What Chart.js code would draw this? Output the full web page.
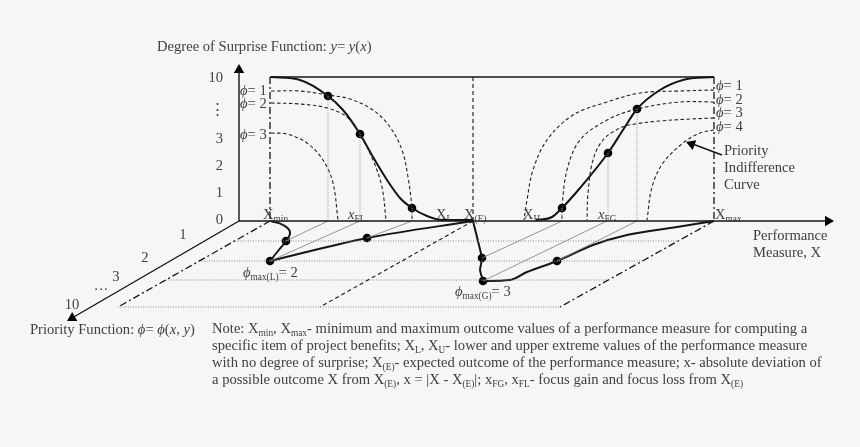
<!DOCTYPE html>
<html>
<head>
<meta charset="utf-8">
<script src="https://cdn.jsdelivr.net/npm/chart.js@4.4.1/dist/chart.umd.min.js"></script>
<style>
body { margin:0; background:#f6f6f6; }
#c { display:block; }
</style>
</head>
<body>
<canvas id="c" width="860" height="447"></canvas>
<script>
// diagram values, in picture units (x to the right, y downward)
var surpriseTicks = ['10', '⋮', '3', '2', '1', '0'];
var surpriseTickY = [77, 109, 138, 165, 192, 219];
var priorityTicks = ['1', '2', '3', '…', '10'];
var priorityTickXY = [[183,234], [145,257], [116,276], [101,285], [72,304]];

var topLine = [[270,77], [714,77]];
var lossCurve = [[271,77],[300,80],[328,96],[343,110],[360,134],[373,157],[387,180],[400,198],[412,208],[427,216],[442,220],[473,220]];
var gainCurve = [[536,220],[552,217],[562,208],[580,188],[608,153],[623,130],[637,109],[660,90],[683,80],[714,77]];

var lossPhi1 = [[271,91],[300,91],[328,95],[350,99],[373,110],[390,127],[402,150],[408,177],[412,208],[412,220]];
var lossPhi2 = [[271,103],[300,104],[327,108],[347,117],[360,135],[373,160],[382,187],[386,220]];
var lossPhi3 = [[271,133],[287,134],[307,143],[323,160],[333,183],[338,220]];
var gainPhi1 = [[714,90],[680,91],[640,93],[607,102],[573,115],[547,140],[533,170],[527,200],[524,220]];
var gainPhi2 = [[714,102],[680,102],[637,109],[607,120],[580,140],[567,170],[562,208],[562,220]];
var gainPhi3 = [[714,118],[690,119],[660,121],[635,124],[620,128],[603,140],[593,160],[588,193],[587,220]];
var gainPhi4 = [[714,130],[700,133],[683,143],[663,163],[652,187],[647,220]];

var lossDots = [[328,96], [360,134], [412,208]];
var gainDots = [[562,208], [608,153], [637,109]];
var floorDots = [[286,241], [270,261], [367,238], [482,258], [483,281], [557,261]];

var floorRows = [[[233,241],[677,241]], [[199,261],[642,261]], [[166,280],[608,280]], [[118,307],[560,307]]];
var floorLoss = [[271,221],[283,225],[290,232],[286,241],[278,251],[270,261]];
var floorLossLine = [[270,261],[367,238],[473,221]];
var floorLossLinks = [[[286,241],[328,221]], [[270,261],[360,221]], [[367,238],[412,221]]];
var floorGainDrop = [[473,221],[482,258],[480,270],[483,281]];
var floorGain = [[483,281],[510,280],[527,272],[557,261],[593,245],[627,235],[677,227],[714,221]];
var floorGainLinks = [[[482,258],[562,221]], [[483,281],[607,221]], [[557,261],[637,221]]];

var verticalDrops = [[[328,96],[328,220]], [[360,134],[360,220]], [[412,208],[412,220]],
                     [[562,208],[562,220]], [[608,153],[608,220]], [[637,109],[637,220]]];

var axisY = [[239,221],[239,70]];
var axisX = [[239,221],[828,221]];
var axisPhi = [[239,221],[72,318]];
var tips = [[239,64,0], [834,221,90], [67,321,240], [686,142,290]];
var noteArrow = [[722,155],[690,143]];

function pts(a) {
  return a.map(function (p) { return { x: p[0], y: p[1] }; });
}

function line(a, color, width, dash, tension) {
  return {
    data: pts(a), showLine: true, borderColor: color, borderWidth: width,
    borderDash: dash || [], pointRadius: 0, tension: tension || 0, fill: false
  };
}

function smooth(a, color, width) {
  var d = line(a, color, width, [], 0.4);
  d.cubicInterpolationMode = 'monotone';
  return d;
}

var ink = '#151515';
var dashDot = [7, 3, 2, 3];
var datasets = [];

datasets.push(line(axisY, ink, 1.4));
datasets.push(line(axisX, ink, 1.4));
datasets.push(line(axisPhi, ink, 1.4));
datasets.push(line(noteArrow, ink, 1.4));
datasets.push(line(topLine, ink, 1.6));

datasets.push(line([[270,77],[270,221]], ink, 1.3, dashDot));
datasets.push(line([[714,77],[714,221]], ink, 1.3, dashDot));
datasets.push(line([[473,77],[473,221]], ink, 1.1, [4, 3]));
datasets.push(line([[270,221],[118,307]], ink, 1.3, dashDot));
datasets.push(line([[714,221],[560,307]], ink, 1.3, dashDot));
datasets.push(line([[473,221],[320,307]], ink, 1.1, [4, 3]));

floorRows.forEach(function (r) { datasets.push(line(r, '#8a8a8a', 1, [1, 1.5])); });
verticalDrops.forEach(function (r) { datasets.push(line(r, '#9a9a9a', 0.9, [1, 1])); });
floorLossLinks.forEach(function (r) { datasets.push(line(r, '#8a8a8a', 0.9)); });
floorGainLinks.forEach(function (r) { datasets.push(line(r, '#8a8a8a', 0.9)); });

[lossPhi1, lossPhi2, lossPhi3, gainPhi1, gainPhi2, gainPhi3, gainPhi4].forEach(function (c) {
  datasets.push(line(c, '#222', 1.1, [3.5, 2.5], 0.35));
});

datasets.push(smooth(lossCurve, ink, 2));
datasets.push(smooth(gainCurve, ink, 2));
datasets.push(line(floorLoss, ink, 2, [], 0.45));
datasets.push(smooth(floorLossLine, ink, 2));
datasets.push(line(floorGainDrop, ink, 2, [], 0.1));
datasets.push(smooth(floorGain, ink, 2));

datasets.push({
  data: pts(lossDots.concat(gainDots, floorDots)), showLine: false,
  pointRadius: 4.3, pointBackgroundColor: '#000', pointBorderWidth: 0
});

// arrow heads: triangle centred a little behind each tip
var headR = 6;
datasets.push({
  data: tips.map(function (t) {
    var a = t[2] * Math.PI / 180;
    return { x: t[0] - Math.sin(a) * headR, y: t[1] + Math.cos(a) * headR };
  }),
  showLine: false, pointStyle: 'triangle', pointRadius: headR,
  pointRotation: tips.map(function (t) { return t[2]; }),
  pointBackgroundColor: '#000', pointBorderWidth: 0
});

var fs = 14.6;
var labels = [
  { t: 'Degree of Surprise Function: *y*= *y*(*x*)', x: 157, y: 51 },
  { t: '*ϕ*= 1', x: 240, y: 95 },
  { t: '*ϕ*= 2', x: 240, y: 108 },
  { t: '*ϕ*= 3', x: 240, y: 139 },
  { t: '*ϕ*= 1', x: 716, y: 90 },
  { t: '*ϕ*= 2', x: 716, y: 104 },
  { t: '*ϕ*= 3', x: 716, y: 117 },
  { t: '*ϕ*= 4', x: 716, y: 131 },
  { t: 'Priority', x: 724, y: 155 },
  { t: 'Indifference', x: 724, y: 172 },
  { t: 'Curve', x: 724, y: 189 },
  { t: 'X_{min}', x: 263, y: 219 },
  { t: '*x*_{FL}', x: 348, y: 219 },
  { t: 'X_{L}', x: 436, y: 219 },
  { t: 'X_{(E)}', x: 464, y: 219 },
  { t: 'X_{H}', x: 523, y: 219 },
  { t: '*x*_{FG}', x: 598, y: 219 },
  { t: 'X_{max}', x: 715, y: 219 },
  { t: '*ϕ*_{max(L)}= 2', x: 243, y: 277 },
  { t: '*ϕ*_{max(G)}= 3', x: 455, y: 296 },
  { t: 'Performance', x: 753, y: 240 },
  { t: 'Measure, X', x: 753, y: 257 },
  { t: 'Priority Function: *ϕ*= *ϕ*(*x*, *y*)', x: 30, y: 334 },
  { t: 'Note: X_{min}, X_{max}- minimum and maximum outcome values of a performance measure for computing a', x: 212, y: 333 },
  { t: 'specific item of project benefits; X_{L}, X_{U}- lower and upper extreme values of the performance measure', x: 212, y: 350 },
  { t: 'with no degree of surprise; X_{(E)}- expected outcome of the performance measure; x- absolute deviation of', x: 212, y: 367 },
  { t: 'a possible outcome X from X_{(E)}, x = |X - X_{(E)}|; x_{FG}, x_{FL}- focus gain and focus loss from X_{(E)}', x: 212, y: 384 }
];

function parseRich(s) {
  var out = [], buf = '', it = false, i = 0;
  while (i < s.length) {
    var c = s[i];
    if (c === '*') {
      if (buf) out.push({ t: buf, it: it, sub: false });
      buf = ''; it = !it; i++;
    } else if (c === '_' && s[i + 1] === '{') {
      if (buf) out.push({ t: buf, it: it, sub: false });
      buf = '';
      var j = s.indexOf('}', i);
      out.push({ t: s.slice(i + 2, j), it: false, sub: true });
      i = j + 1;
    } else { buf += c; i++; }
  }
  if (buf) out.push({ t: buf, it: it, sub: false });
  return out;
}

function drawRich(ctx, s, x, y, size, align) {
  var parts = parseRich(s);
  var fam = '"Liberation Serif", "Times New Roman", serif';
  var w = 0;
  parts.forEach(function (p) {
    var f = p.sub ? size * 0.64 : size;
    p.font = (p.it ? 'italic ' : '') + f + 'px ' + fam;
    ctx.font = p.font;
    p.w = ctx.measureText(p.t).width;
    w += p.w;
  });
  var cx = align === 'right' ? x - w : align === 'center' ? x - w / 2 : x;
  parts.forEach(function (p) {
    ctx.font = p.font;
    ctx.fillText(p.t, cx, p.sub ? y + size * 0.22 : y);
    cx += p.w;
  });
}

var textPlugin = {
  id: 'texts',
  beforeDraw: function (chart) {
    var ctx = chart.ctx;
    ctx.save();
    ctx.fillStyle = '#f6f6f6';
    ctx.fillRect(0, 0, chart.width, chart.height);
    ctx.restore();
  },
  afterDraw: function (chart) {
    var ctx = chart.ctx, sx = chart.scales.x, sy = chart.scales.y;
    ctx.save();
    ctx.fillStyle = '#404040';
    ctx.textBaseline = 'alphabetic';
    surpriseTicks.forEach(function (t, i) {
      var ax = t === '⋮' ? 225 : 223;
      drawRich(ctx, t, sx.getPixelForValue(ax), sy.getPixelForValue(surpriseTickY[i] + 5), fs, 'right');
    });
    priorityTicks.forEach(function (t, i) {
      var p = priorityTickXY[i];
      drawRich(ctx, t, sx.getPixelForValue(p[0]), sy.getPixelForValue(p[1] + 5), fs, 'center');
    });
    labels.forEach(function (l) {
      drawRich(ctx, l.t, sx.getPixelForValue(l.x), sy.getPixelForValue(l.y), fs, l.a);
    });
    ctx.restore();
  }
};

new Chart(document.getElementById('c'), {
  type: 'scatter',
  data: { datasets: datasets },
  options: {
    responsive: false,
    animation: false,
    layout: { padding: 0, autoPadding: false },
    plugins: { legend: { display: false }, tooltip: { enabled: false } },
    scales: {
      x: { type: 'linear', min: 0, max: 860, display: false },
      y: { type: 'linear', min: 0, max: 447, reverse: true, display: false }
    }
  },
  plugins: [textPlugin]
});
</script>
</body>
</html>
